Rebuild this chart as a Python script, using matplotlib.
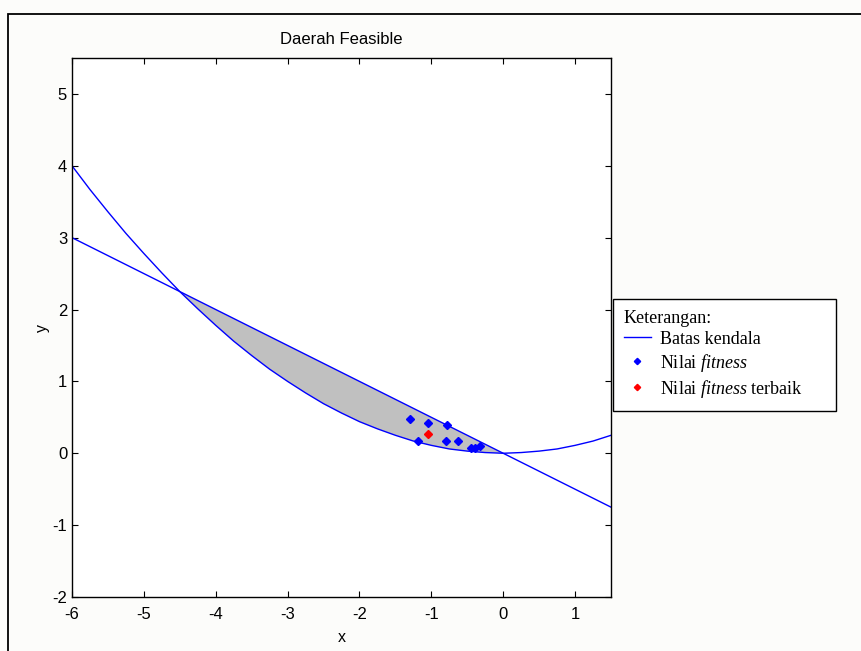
import numpy as np
import matplotlib
matplotlib.use('Agg')
import matplotlib.pyplot as plt
from matplotlib.patches import Rectangle

plt.rcParams['font.family'] = ['Liberation Sans', 'DejaVu Sans']
plt.rcParams['axes.unicode_minus'] = False
plt.rcParams['mathtext.fontset'] = 'custom'
plt.rcParams['mathtext.rm'] = 'Liberation Serif'
plt.rcParams['mathtext.it'] = 'Liberation Serif:italic'

# batas kendala 1 (kurva)
kurva_x = [-6.0, -5.75, -5.5, -5.25, -5.0, -4.75, -4.5, -4.25, -4.0, -3.75, -3.5,
           -3.25, -3.0, -2.75, -2.5, -2.25, -2.0, -1.75, -1.5, -1.25, -1.0, -0.75,
           -0.5, -0.25, 0.0, 0.25, 0.5, 0.75, 1.0, 1.25, 1.5]
kurva_y = [4.0, 3.67, 3.36, 3.06, 2.78, 2.51, 2.25, 2.01, 1.78, 1.56, 1.36,
           1.17, 1.0, 0.84, 0.69, 0.56, 0.44, 0.34, 0.25, 0.17, 0.11, 0.06,
           0.03, 0.01, 0.0, 0.01, 0.03, 0.06, 0.11, 0.17, 0.25]
# batas kendala 2 (garis)
garis_x = [-6.0, 1.5]
garis_y = [3.0, -0.75]

# nilai fitness
fit_x = [-1.29, -1.04, -0.78, -1.18, -0.80, -0.625, -0.45, -0.39, -0.32]
fit_y = [0.47, 0.42, 0.39, 0.17, 0.17, 0.17, 0.07, 0.08, 0.10]
# nilai fitness terbaik
best_x = [-1.04]
best_y = [0.27]

fig = plt.figure(figsize=(8.61, 6.51), dpi=100)
fig.patch.set_facecolor('#fcfcfa')
fig.patches.append(Rectangle((8/861, -0.1), 1.2, 1 - 14/651 + 0.1, transform=fig.transFigure,
                             fill=False, edgecolor='black', linewidth=1.3))
ax = fig.add_axes([72/861, 1 - 597/651, 539/861, 539/651])
ax.set_facecolor('white')

kx = np.array(kurva_x)
ky = np.array(kurva_y)
m = (kx >= -4.5) & (kx <= 0)
ax.fill(kx[m], ky[m], color='#c0c0c0', edgecolor='none', zorder=1)

l1, = ax.plot(kurva_x, kurva_y, color='blue', lw=1, zorder=2)
ax.plot(garis_x, garis_y, color='blue', lw=1, zorder=2)
p1, = ax.plot(fit_x, fit_y, 'D', color='blue', ms=4, ls='none', zorder=3)
p2, = ax.plot(best_x, best_y, 'D', color='red', ms=4, ls='none', zorder=3)

ax.set_xlim(-6, 1.5)
ax.set_ylim(-2, 5.5)
ax.set_xticks(range(-6, 2))
ax.set_yticks(range(-2, 6))
ax.tick_params(direction='in', top=True, right=True, length=4, labelsize=12)
ax.tick_params(axis='x', pad=7)
for s in ax.spines.values():
    s.set_linewidth(1)
ax.set_title('Daerah Feasible', fontsize=12, pad=10)
ax.set_xlabel('x', fontsize=11.5, labelpad=6)
ax.set_ylabel('y', fontsize=11.5, labelpad=2)

leg = fig.legend([l1, p1, p2],
                 ['Batas kendala', r'Nilai $\it{fitness}$', r'Nilai $\it{fitness}$ terbaik      '],
                 loc='upper left', bbox_to_anchor=(613/861, 1 - 299/651), borderaxespad=0,
                 title='Keterangan:', alignment='left', fancybox=False, edgecolor='black',
                 prop={'family': 'Liberation Serif', 'size': 13},
                 title_fontproperties={'family': 'Liberation Serif', 'size': 13},
                 handlelength=1.5, handletextpad=0.5, labelspacing=0.22, borderpad=0.6,
                 markerscale=0.8, framealpha=1)
leg.get_frame().set_linewidth(1)

fig.savefig('out.png', dpi=100, facecolor=fig.get_facecolor())
